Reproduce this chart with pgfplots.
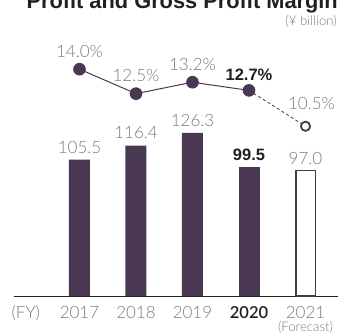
\documentclass[border=0pt]{standalone}
\usepackage{pgfplots}
\usepackage{pgfplotstable}
\pgfplotsset{compat=1.18}
\usepackage{fontspec}
\setmainfont{Liberation Sans}
\newfontfamily\lightfont{Lato Light}
\definecolor{plum}{HTML}{4A3752}
\definecolor{txtgray}{HTML}{7A7A7A}
\definecolor{txtdark}{HTML}{231F20}

\pgfplotstableread{
year value
2017 105.5
2018 116.4
2019 126.3
}\barsA
\pgfplotstableread{
year value
2020 99.5
}\barsB
\pgfplotstableread{
year value
2021 97.0
}\barsC
\pgfplotstableread{
year margin
2017 14.0
2018 12.5
2019 13.2
2020 12.7
}\marginA
\pgfplotstableread{
year margin
2020 12.7
2021 10.5
}\marginF

\newcommand{\lbl}{\lightfont\fontsize{17}{18}\selectfont}
\newcommand{\blbl}{\fontsize{16.5}{18}\selectfont\bfseries}
\newcommand{\sml}{\lightfont\fontsize{13.2}{14}\selectfont}

\begin{document}
\begin{tikzpicture}
\pgfplotsset{base/.style={scale only axis, width=324pt, height=266pt,
  xmin=2015.841, xmax=2021.575, clip=false}}
\begin{axis}[base, ymin=0, ymax=205.9,
  axis x line=bottom, axis y line=none,
  x axis line style={-, draw=txtdark, line width=0.8pt},
  xtick={2016.05,2017,2018,2019,2020,2021},
  xticklabels={(FY),2017,2018,2019,{\textcolor{txtdark}{\blbl 2020}},2021},
  major tick length=0pt,
  xticklabel style={anchor=base, yshift=-22.3pt, font=\lbl, text=txtgray, inner sep=0pt},
  ybar, bar shift=0pt,
  point meta=explicit symbolic,
  nodes near coords={\pgfplotspointmeta},
  every node near coord/.append style={anchor=base, yshift=6.7pt, inner sep=0pt, font=\lbl, text=txtgray}]
\addplot[fill=plum, draw=none, bar width=21pt] table[x=year, y=value, meta=value] {\barsA};
\addplot[fill=plum, draw=none, bar width=21pt,
  every node near coord/.append style={font=\blbl, text=txtdark}] table[x=year, y=value, meta=value] {\barsB};
\addplot[fill=white, draw=plum, line width=1.5pt, bar width=19.5pt,
  every node near coord/.append style={yshift=-0.75pt}] table[x=year, y=value, meta=value] {\barsC};
\node[anchor=base, font=\sml, text=txtgray, inner sep=0pt, yshift=-35pt] at (axis cs:2021,0) {(Forecast)};
\end{axis}

\begin{axis}[base, ymin=0.086, ymax=16.405, axis lines=none,
  point meta=explicit symbolic]
\addplot[plum, line width=0.8pt, dash pattern=on 3pt off 2.5pt] table[x=year, y=margin] {\marginF};
\addplot[plum, line width=1pt, mark=*, mark size=5.8pt, mark options={fill=plum, draw=none, solid}] table[x=year, y=margin] {\marginA};
\addplot[only marks, mark=*, mark size=4.6pt, mark options={fill=white, draw=plum, line width=1.8pt}] coordinates {(2021,10.5)};
% labels
\addplot[draw=none, nodes near coords={\pgfplotspointmeta\%},
  every node near coord/.append style={anchor=base, yshift=12pt, inner sep=0pt, font=\lbl, text=txtgray}]
  coordinates {(2017,14.0) [14.0] (2018,12.5) [12.5] (2019,13.2) [13.2]};
\addplot[draw=none, nodes near coords={\pgfplotspointmeta\%},
  every node near coord/.append style={anchor=base, yshift=10pt, inner sep=0pt, font=\blbl, text=txtdark}]
  coordinates {(2020,12.7) [12.7]};
\addplot[draw=none, nodes near coords={\pgfplotspointmeta\%},
  every node near coord/.append style={anchor=base, yshift=16.4pt, xshift=6pt, inner sep=0pt, font=\lbl, text=txtgray}]
  coordinates {(2021,10.5) [10.5]};
\end{axis}

\node[anchor=base east, font=\bfseries\fontsize{21.8}{24}\selectfont, text=txtdark, inner sep=0pt] at (324pt,287.7pt) {Profit and Gross Profit Margin};
\node[anchor=base east, font=\sml, text=txtgray, inner sep=0pt] at (323pt,271pt) {(¥ billion)};

\pgfresetboundingbox
\useasboundingbox (-14pt,-37pt) rectangle (324pt,296pt);
\end{tikzpicture}
\end{document}
